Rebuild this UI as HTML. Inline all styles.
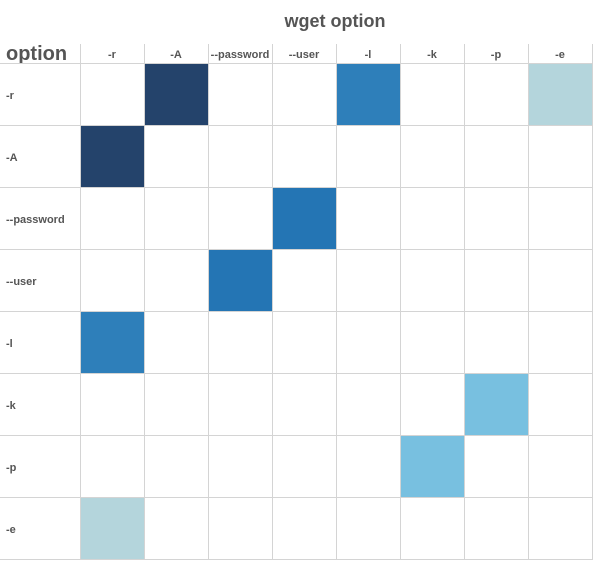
<!DOCTYPE html>
<html><head><meta charset="utf-8"><style>
body{margin:0;background:#fff;font-family:"Liberation Sans",Arial,sans-serif;}
svg text{font-family:"Liberation Sans",Arial,sans-serif;}
</style></head><body>
<svg id="c" width="593" height="561">
<text x="335" y="27" text-anchor="middle" font-size="18" font-weight="bold" fill="#555">wget option</text>
<text x="6" y="60" font-size="20" font-weight="bold" fill="#555">option</text>
</svg>
<script>
const options = ["-r","-A","--password","--user","-l","-k","-p","-e"];
const pairsRow = ["-r","-A","-r","-l","--password","--user","-k","-p","-r","-e"];
const pairsCol = ["-A","-r","-l","-r","--user","--password","-p","-k","-e","-r"];
const pairValues = [9,9,7,7,7.5,7.5,4,4,2,2];
const colorStops = [2,4,7,7.5,9];
const colorList = ["#b4d5dc","#78c0e0","#2e7fba","#2475b4","#24436b"];
const svg = document.getElementById('c');
const NS = "http://www.w3.org/2000/svg";
const x0 = 80, y0 = 64, cw = 64, ch = 62, hy = 44;
function xPos(i){return x0 + i*cw;}
function yPos(i){return y0 + i*ch;}
function color(v){let c=colorList[0];for(let i=0;i<colorStops.length;i++){if(v>=colorStops[i])c=colorList[i];}return c;}
function mk(tag, attrs){const e=document.createElementNS(NS,tag);for(const k in attrs)e.setAttribute(k,attrs[k]);svg.appendChild(e);return e;}
// cells
for(let k=0;k<pairValues.length;k++){
  const r=options.indexOf(pairsRow[k]), c=options.indexOf(pairsCol[k]);
  const e=mk('rect',{x:xPos(c),y:yPos(r),width:cw,height:ch,fill:color(pairValues[k])});
  
  
}
// grid
for(let i=0;i<=options.length;i++){
  const v=mk('line',{x1:xPos(i)+0.5,x2:xPos(i)+0.5,y1:hy,y2:yPos(options.length),stroke:'#d4d4d4','stroke-width':1});
  
  
  const h=mk('line',{x1:0,x2:xPos(options.length),y1:yPos(i)-0.5,y2:yPos(i)-0.5,stroke:'#d4d4d4','stroke-width':1});
  
  
}
// labels
options.forEach((o,i)=>{
  const t=mk('text',{x:xPos(i)+cw/2,y:58,'text-anchor':'middle','font-size':11,'font-weight':'bold',fill:'#555'});
  t.textContent=o;
  
  
  const r=mk('text',{x:6,y:yPos(i)+ch/2+4,'font-size':11,'font-weight':'bold',fill:'#555'});
  r.textContent=o;
  
  
});
</script>
</body></html>
